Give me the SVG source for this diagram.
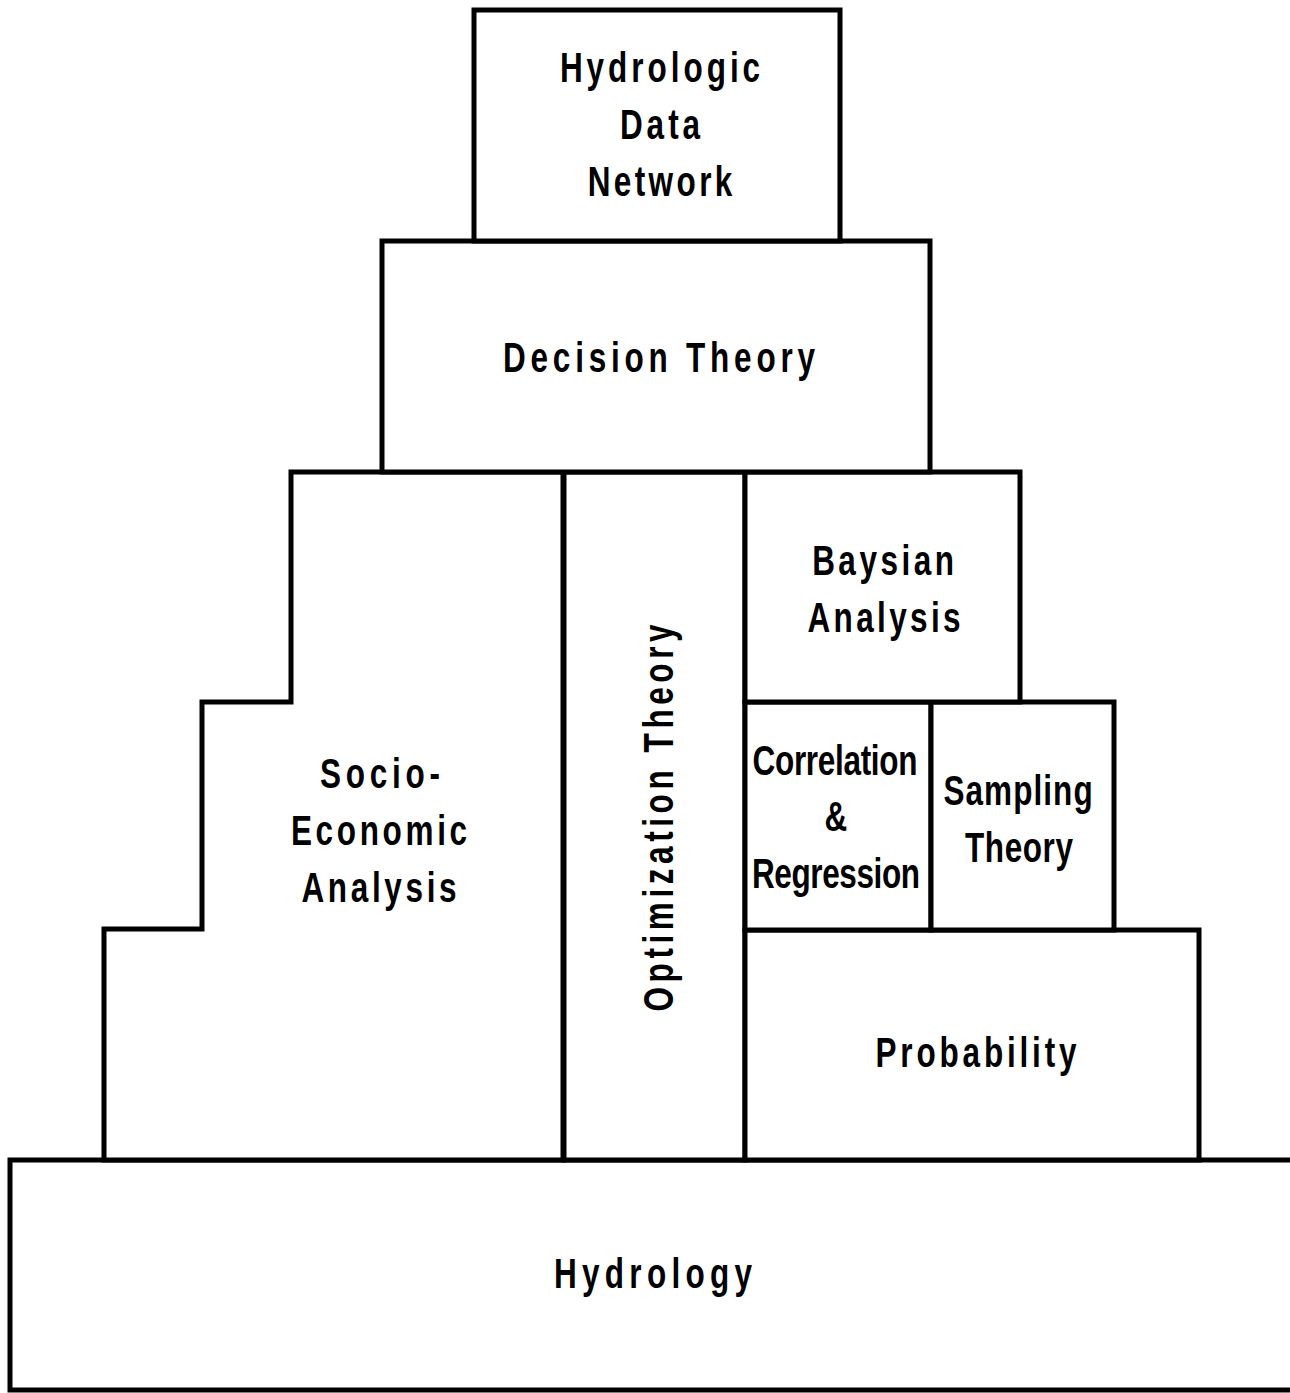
<svg xmlns="http://www.w3.org/2000/svg" width="1290" height="1393" viewBox="0 0 1290 1393">
<style>
.b{fill:#fff;stroke:#000;stroke-width:5;stroke-linejoin:miter}
.t{font-family:"Liberation Sans",Arial,sans-serif;font-weight:bold;font-size:42px;fill:#000;text-anchor:middle}
</style>
<rect width="1290" height="1393" fill="#fff"/>
<g id="hydrology">
<rect class="b" x="10" y="1160" width="1300" height="230"/>
<text class="t" transform="translate(653,1288) scale(0.75,1)" textLength="264" lengthAdjust="spacing">Hydrology</text>
</g>
<g id="socio-economic">
<path class="b" d="M563,472 H291 V702 H202 V929 H104 V1160 H563 Z"/>
<text class="t" transform="translate(380,788) scale(0.75,1)" textLength="160" lengthAdjust="spacing">Socio-</text>
<text class="t" transform="translate(379,845) scale(0.75,1)" textLength="235" lengthAdjust="spacing">Economic</text>
<text class="t" transform="translate(379,902) scale(0.75,1)" textLength="207" lengthAdjust="spacing">Analysis</text>
</g>
<g id="optimization">
<rect class="b" x="564" y="472" width="181" height="688"/>
<text class="t" transform="translate(673,818) rotate(-90) scale(0.75,1)" textLength="516" lengthAdjust="spacing">Optimization  Theory</text>
</g>
<g id="probability">
<rect class="b" x="745" y="930" width="454" height="230"/>
<text class="t" transform="translate(976,1067) scale(0.75,1)" textLength="268" lengthAdjust="spacing">Probability</text>
</g>
<g id="correlation">
<rect class="b" x="745" y="702" width="186" height="228"/>
<text class="t" transform="translate(835,775) scale(0.75,1)" textLength="220" lengthAdjust="spacing">Correlation</text>
<text class="t" transform="translate(836,831) scale(0.75,1)">&amp;</text>
<text class="t" transform="translate(836,888) scale(0.75,1)" textLength="224" lengthAdjust="spacing">Regression</text>
</g>
<g id="sampling">
<rect class="b" x="931" y="702" width="183" height="228"/>
<text class="t" transform="translate(1018,805) scale(0.75,1)" textLength="199" lengthAdjust="spacing">Sampling</text>
<text class="t" transform="translate(1019,862) scale(0.75,1)" textLength="144" lengthAdjust="spacing">Theory</text>
</g>
<g id="baysian">
<rect class="b" x="745" y="472" width="275" height="230"/>
<text class="t" transform="translate(883,575) scale(0.75,1)" textLength="189" lengthAdjust="spacing">Baysian</text>
<text class="t" transform="translate(884,632) scale(0.75,1)" textLength="204" lengthAdjust="spacing">Analysis</text>
</g>
<g id="decision">
<rect class="b" x="382" y="241" width="548" height="231"/>
<text class="t" transform="translate(659,372) scale(0.75,1)" textLength="416" lengthAdjust="spacing">Decision  Theory</text>
</g>
<g id="data-network">
<rect class="b" x="474" y="10" width="366" height="231"/>
<text class="t" transform="translate(660,82) scale(0.75,1)" textLength="267" lengthAdjust="spacing">Hydrologic</text>
<text class="t" transform="translate(660,139) scale(0.75,1)" textLength="107" lengthAdjust="spacing">Data</text>
<text class="t" transform="translate(660,196) scale(0.75,1)" textLength="193" lengthAdjust="spacing">Network</text>
</g>
<g id="connectors"/>
</svg>
